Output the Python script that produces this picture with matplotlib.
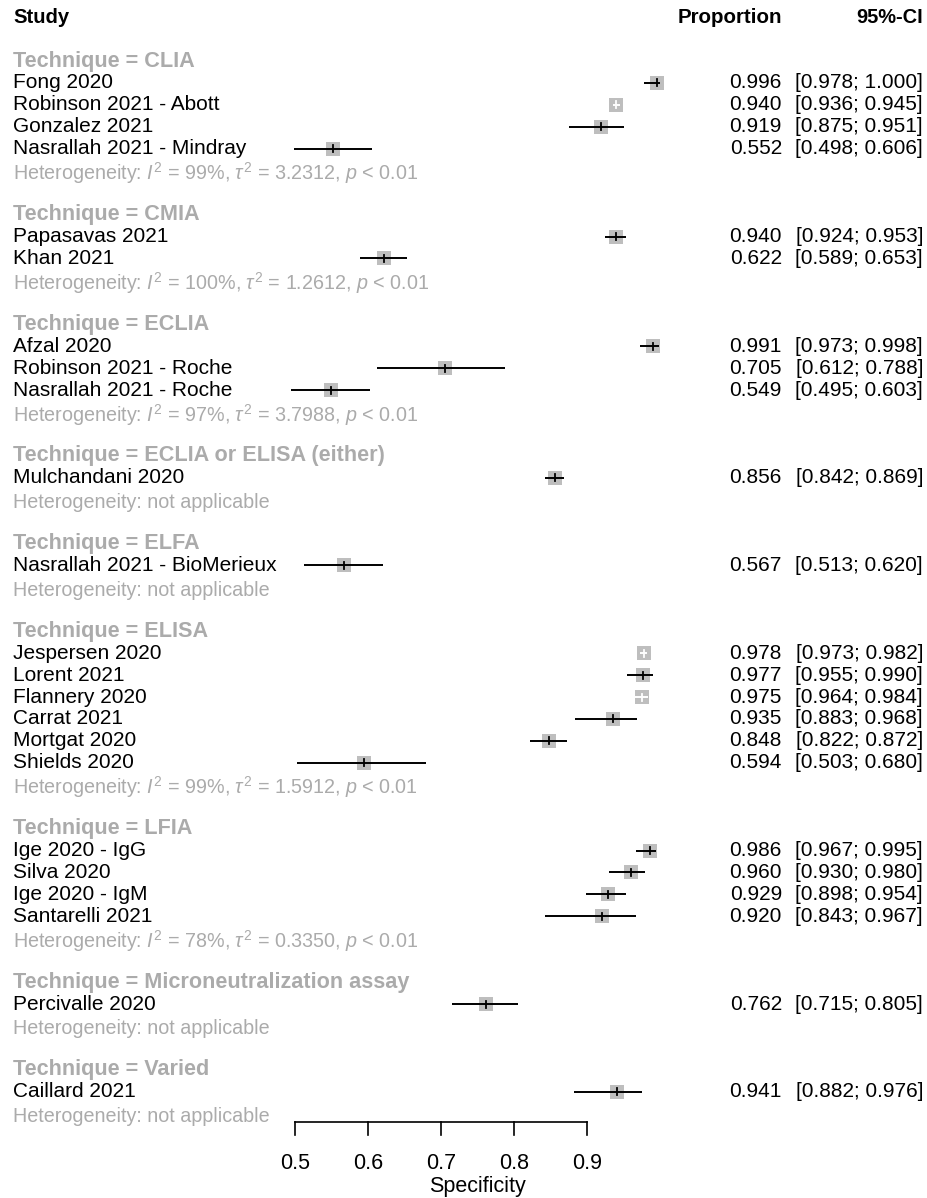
import matplotlib.pyplot as plt
import matplotlib.transforms as mtransforms
from matplotlib.patches import Rectangle

plt.rcParams['font.family'] = ['Liberation Sans', 'DejaVu Sans']
plt.rcParams['mathtext.fontset'] = 'custom'
plt.rcParams['mathtext.rm'] = 'Liberation Sans'
plt.rcParams['mathtext.it'] = 'Liberation Sans:italic'

# studies, technique subgroup, specificity estimate and 95% CI
studies = ['Fong 2020', 'Robinson 2021 - Abott', 'Gonzalez 2021', 'Nasrallah 2021 - Mindray',
           'Papasavas 2021', 'Khan 2021',
           'Afzal 2020', 'Robinson 2021 - Roche', 'Nasrallah 2021 - Roche',
           'Mulchandani 2020',
           'Nasrallah 2021 - BioMerieux',
           'Jespersen 2020', 'Lorent 2021', 'Flannery 2020', 'Carrat 2021', 'Mortgat 2020', 'Shields 2020',
           'Ige 2020 - IgG', 'Silva 2020', 'Ige 2020 - IgM', 'Santarelli 2021',
           'Percivalle 2020',
           'Caillard 2021']
technique = ['CLIA'] * 4 + ['CMIA'] * 2 + ['ECLIA'] * 3 + ['ECLIA or ELISA (either)'] + ['ELFA'] \
    + ['ELISA'] * 6 + ['LFIA'] * 4 + ['Microneutralization assay'] + ['Varied']
proportion = [0.996, 0.940, 0.919, 0.552,
              0.940, 0.622,
              0.991, 0.705, 0.549,
              0.856,
              0.567,
              0.978, 0.977, 0.975, 0.935, 0.848, 0.594,
              0.986, 0.960, 0.929, 0.920,
              0.762,
              0.941]
ci_low = [0.978, 0.936, 0.875, 0.498,
          0.924, 0.589,
          0.973, 0.612, 0.495,
          0.842,
          0.513,
          0.973, 0.955, 0.964, 0.883, 0.822, 0.503,
          0.967, 0.930, 0.898, 0.843,
          0.715,
          0.882]
ci_high = [1.000, 0.945, 0.951, 0.606,
           0.953, 0.653,
           0.998, 0.788, 0.603,
           0.869,
           0.620,
           0.982, 0.990, 0.984, 0.968, 0.872, 0.680,
           0.995, 0.980, 0.954, 0.967,
           0.805,
           0.976]

groups = ['CLIA', 'CMIA', 'ECLIA', 'ECLIA or ELISA (either)', 'ELFA', 'ELISA', 'LFIA',
          'Microneutralization assay', 'Varied']
het_i2 = ['99%', '100%', '97%', None, None, '99%', '78%', None, None]
het_tau2 = ['3.2312', '1.2612', '3.7988', None, None, '1.5912', '0.3350', None, None]

ticks = [0.5, 0.6, 0.7, 0.8, 0.9]
plot_range = (0.5, 1.0)

W, H = 927, 1198
fig = plt.figure(figsize=(W / 100, H / 100), dpi=100)
ax = fig.add_axes([0, 0, 1, 1])
ax.axis('off')

# x: specificity scale, y: row index (0 = header)
px_per_unit = 730.0
x0_px = 295.0
row_px = 21.93
row3_px = 83.0
ax.set_xlim(0.5 - x0_px / px_per_unit, 0.5 + (W - x0_px) / px_per_unit)
ax.set_ylim(3 + (H - row3_px) / row_px, 3 - row3_px / row_px)

trans = mtransforms.blended_transform_factory(fig.transFigure, ax.transData)


def xfig(px):
    return px / W


def row_of(px):
    return 3 + (px - row3_px) / row_px


grey_txt = '#ABABAB'
box_col = '#BEBEBE'
fs = 15
fs_het = 14.2
fs_grp = 15.6

# column headers
ax.text(xfig(13), 0, 'Study', transform=trans, fontsize=14.6, fontweight='bold', va='center')
ax.text(xfig(782), 0, 'Proportion', transform=trans, fontsize=14.8, fontweight='bold', va='center', ha='right')
ax.text(xfig(923), 0, '95%-CI', transform=trans, fontsize=14.4, fontweight='bold', va='center', ha='right')

box_w = 14 / px_per_unit
box_h = 14 / row_px
tick_h = 7 / row_px
hide_w = 15 / px_per_unit  # CI this short is covered by the box -> draw it white

row = 2
for g, i2, tau2 in zip(groups, het_i2, het_tau2):
    ax.text(xfig(13), row, 'Technique = ' + g, transform=trans, fontsize=fs_grp, fontweight='bold',
            color=grey_txt, va='center')
    row += 1
    for name, tech, est, lo, hi in zip(studies, technique, proportion, ci_low, ci_high):
        if tech != g:
            continue
        ax.text(xfig(13), row, name, transform=trans, fontsize=fs, va='center')
        ax.text(xfig(782), row, f'{est:.3f}', transform=trans, fontsize=fs, va='center', ha='right')
        ax.text(xfig(923), row, f'[{lo:.3f}; {hi:.3f}]', transform=trans, fontsize=fs,
                va='center', ha='right')
        ax.add_patch(Rectangle((est - box_w / 2, row - box_h / 2), box_w, box_h,
                               facecolor=box_col, edgecolor='none', zorder=2))
        lc = 'white' if (hi - lo) < hide_w else 'black'
        ax.plot([lo, hi], [row, row], color=lc, lw=1.4, zorder=3, solid_capstyle='butt')
        ax.plot([est, est], [row - tick_h / 2, row + tick_h / 2], color=lc, lw=1.3, zorder=3)
        row += 1
    if i2 is None:
        het = 'Heterogeneity: not applicable'
    else:
        het = rf'Heterogeneity: $I^2$ = {i2}, $\tau^2$ = {tau2}, $p$ < 0.01'
    ax.text(xfig(13), row + 0.12, het, transform=trans, fontsize=fs_het, color=grey_txt, va='center')
    row += 2

# specificity axis
axis_y = row_of(1122)
tick_len = 13 / row_px
ax.plot([ticks[0], ticks[-1]], [axis_y, axis_y], color='black', lw=1.2)
for t in ticks:
    ax.plot([t, t], [axis_y, axis_y + tick_len], color='black', lw=1.2)
    ax.text(t, row_of(1164), f'{t:.1f}', fontsize=15.5, ha='center', va='center')
ax.text(sum(plot_range) / 2, row_of(1187), 'Specificity', fontsize=15.5, ha='center', va='center')

fig.savefig('out.png', dpi=100)
